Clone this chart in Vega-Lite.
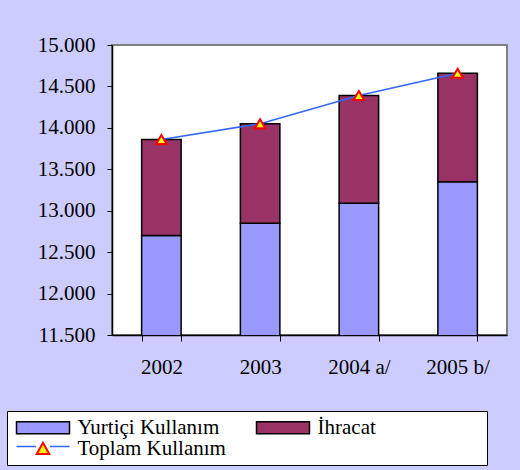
{
  "$schema": "https://vega.github.io/schema/vega-lite/v6.json",
  "width": 395,
  "height": 290,
  "autosize": {"type": "none"},
  "padding": {"left": 112, "top": 45, "right": 13, "bottom": 135},
  "background": "#CCCCFF",
  "config": {
    "view": {"fill": "white", "stroke": "#808080", "strokeWidth": 2},
    "font": "Liberation Serif",
    "locale": {"number": {"decimal": ",", "thousands": ".", "grouping": [3], "currency": ["", ""]}}
  },
  "datasets": {
    "bars": [
      {"year": "2002", "series": "Yurtiçi Kullanım", "value": 12700},
      {"year": "2002", "series": "İhracat", "value": 1160},
      {"year": "2003", "series": "Yurtiçi Kullanım", "value": 12850},
      {"year": "2003", "series": "İhracat", "value": 1200},
      {"year": "2004 a/", "series": "Yurtiçi Kullanım", "value": 13090},
      {"year": "2004 a/", "series": "İhracat", "value": 1300},
      {"year": "2005 b/", "series": "Yurtiçi Kullanım", "value": 13350},
      {"year": "2005 b/", "series": "İhracat", "value": 1310}
    ],
    "totals": [
      {"year": "2002", "series": "Toplam Kullanım", "value": 13860},
      {"year": "2003", "series": "Toplam Kullanım", "value": 14050},
      {"year": "2004 a/", "series": "Toplam Kullanım", "value": 14390},
      {"year": "2005 b/", "series": "Toplam Kullanım", "value": 14660}
    ]
  },
  "encoding": {
    "x": {
      "field": "year", "type": "nominal", "sort": null,
      "scale": {"paddingInner": 0.6, "paddingOuter": 0.3},
      "axis": {
        "title": null, "labelAngle": 0, "tickBand": "extent", "tickSize": 6,
        "tickColor": "black", "domainColor": "black", "domainWidth": 1.5,
        "labelFontSize": 21, "labelColor": "black", "labelPadding": 15
      }
    },
    "y": {
      "field": "value", "type": "quantitative",
      "scale": {"domain": [11500, 15000], "nice": false, "zero": false},
      "axis": {
        "title": null, "grid": false, "values": [11500, 12000, 12500, 13000, 13500, 14000, 14500, 15000],
        "format": ",.0f", "tickSize": 5, "tickColor": "black", "domainColor": "black", "domainWidth": 1.5,
        "labelFontSize": 21, "labelColor": "black", "labelPadding": 12
      }
    }
  },
  "layer": [
    {
      "data": {"name": "bars"},
      "mark": {"type": "bar", "stroke": "black", "strokeWidth": 1.5, "clip": true},
      "encoding": {
        "y": {"field": "value", "type": "quantitative", "stack": "zero"},
        "order": {"field": "series", "sort": "ascending"},
        "fill": {
          "field": "series", "type": "nominal",
          "scale": {"domain": ["Yurtiçi Kullanım", "İhracat", "Toplam Kullanım"], "range": ["#9999FF", "#993366", "#FFFF00"]},
          "legend": {
            "orient": "none", "legendX": -105, "legendY": 366, "direction": "horizontal", "title": null,
            "columns": 2, "gridAlign": "each", "columnPadding": 27, "rowPadding": -2,
            "fillColor": "white", "strokeColor": "black", "padding": 6,
            "labelFontSize": 21, "labelColor": "black", "labelOffset": 24, "labelLimit": 400,
            "labelExpr": "datum.label === 'İhracat' ? datum.label + '\u2800\u2800\u2800\u2800\u2800\u2800\u2800' : datum.label",
            "symbolSize": 100, "symbolOffset": 19.5, "symbolStrokeColor": "black", "symbolStrokeWidth": 1.5, "symbolOpacity": 1,
            "encode": {
              "symbols": {
                "update": {
                  "size": {"value": 100},
                  "shape": {"signal": "datum.value === 'Toplam Kullanım' ? 'M-1.25,1.1L0,-1.15L1.25,1.1Z' : 'M-5.3,-1.2H5.3V1.2H-5.3Z'"},
                  "stroke": {"signal": "datum.value === 'Toplam Kullanım' ? '#FF0000' : 'black'"},
                  "strokeWidth": {"signal": "datum.value === 'Toplam Kullanım' ? 2 : 1.5"}
                }
              }
            }
          }
        }
      }
    },
    {
      "data": {"name": "totals"},
      "mark": {"type": "line", "strokeWidth": 1.5},
      "encoding": {
        "stroke": {
          "field": "series", "type": "nominal",
          "scale": {"domain": ["Toplam Kullanım"], "range": ["#3366FF"]},
          "legend": {
            "orient": "none", "legendX": -105, "legendY": 385, "title": null,
            "padding": 6, "labelFontSize": 21, "labelExpr": "''", "labelOffset": 24,
            "symbolSize": 100, "symbolOffset": 19.5, "symbolStrokeWidth": 1.5, "symbolType": "M-5.3,0H-1.4M1.4,0H5.3",
            "encode": {"symbols": {"update": {"size": {"value": 100}}}}
          }
        }
      }
    },
    {
      "data": {"name": "totals"},
      "mark": {"type": "point", "shape": "triangle-up", "filled": true, "size": 110, "stroke": "#FF0000", "strokeWidth": 2, "opacity": 1},
      "encoding": {
        "fill": {"field": "series", "type": "nominal"}
      }
    }
  ]
}
